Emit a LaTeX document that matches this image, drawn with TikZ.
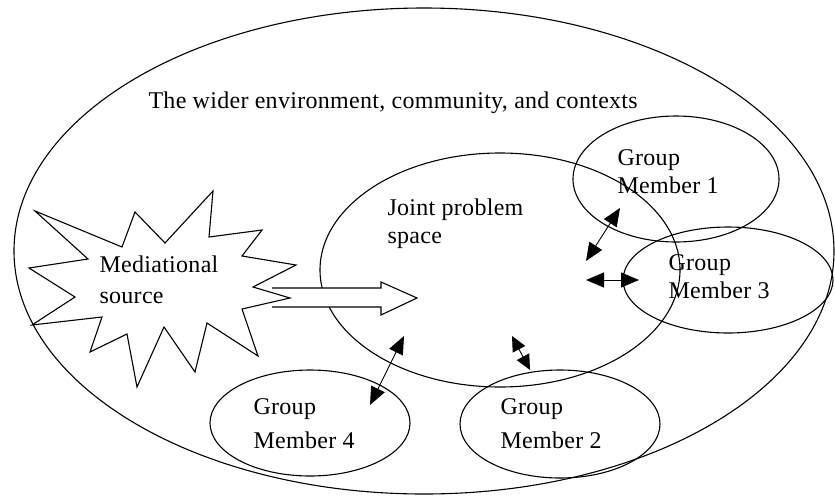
\documentclass[tikz,border=0pt]{standalone}
\usepackage{fontspec}
\setmainfont[LetterSpace=1.2]{Liberation Serif}
\usetikzlibrary{shapes.geometric,arrows.meta}

% two stacked lines, baseline of the box = baseline of the first line
\newcommand\twoline[3]{\vtop{\baselineskip=#3pt\hbox{#1}\hbox{#2}}}

\begin{document}
\begin{tikzpicture}[x=1pt,y=-1pt,
  line width=1.1pt,
  region/.style={draw, ellipse, inner sep=0pt},
  caption/.style={anchor=base west, inner sep=0pt, font=\fontsize{24}{29}\selectfont},
  link/.style={{Triangle[length=18pt,width=15pt]}-{Triangle[length=18pt,width=15pt]}, line width=0.9pt},
  short link/.style={{Triangle[length=15pt,width=14pt]}-{Triangle[length=15pt,width=14pt]}, line width=0.9pt},
]
\useasboundingbox (0,0) rectangle (835,496);

% context and the group regions
\node[region, minimum width=820pt, minimum height=486pt] (outer) at (424,251) {};
\node[region, minimum width=360pt, minimum height=234pt] (jps) at (500,270) {};
\node[region, minimum width=206pt, minimum height=126pt] (gm1) at (676,179) {};
\node[region, minimum width=210pt, minimum height=106pt] (gm3) at (728,280) {};
\node[region, minimum width=200pt, minimum height=106pt] (gm4) at (310,423) {};
\node[region, minimum width=200pt, minimum height=108pt] (gm2) at (560,424) {};

% block arrow from the source into the problem space (open at its tail)
\fill[white] (272,288) -- (381,288) -- (381,282) -- (417,298) -- (381,315) -- (381,307) -- (272,307) -- cycle;
\draw (272,288) -- (381,288) -- (381,282) -- (417,298) -- (381,315) -- (381,307) -- (272,307);

% mediational source burst
\draw[fill=white] (35,211) -- (122,247) -- (135,212) -- (165,243) -- (213,191) -- (209,237)
  -- (262,230) -- (242,256) -- (296,265) -- (253,287) -- (290,298) -- (242,309)
  -- (258,356) -- (207,323) -- (195,372) -- (164,327) -- (137,387) -- (127,334)
  -- (90,352) -- (102,317) -- (32,325) -- (75,297) -- (29,268) -- (88,259) -- cycle;

% interaction arrows
\coordinate (a1) at (620,208); \coordinate (b1) at (586,261);
\coordinate (a2) at (586,280); \coordinate (b2) at (639,280);
\coordinate (a3) at (512,336); \coordinate (b3) at (530,370);
\coordinate (a4) at (404,336); \coordinate (b4) at (370,405);
\draw[link] (a1) -- (b1);
\draw[link] (a2) -- (b2);
\draw[short link] (a3) -- (b3);
\draw[link] (a4) -- (b4);

% labels
\node[caption] (t-outer) at (148,108) {The wider environment, community, and contexts};
\node[caption] (t-jps) at (387,215) {\twoline{Joint problem}{space}{28}};
\node[caption] (t-src) at (99,272) {\twoline{Mediational}{source}{31}};
\node[caption] (t-gm1) at (617,165) {\twoline{Group}{Member 1}{28}};
\node[caption] (t-gm3) at (668,270) {\twoline{Group}{Member 3}{28}};
\node[caption] (t-gm4) at (253,414) {\twoline{Group}{Member 4}{34}};
\node[caption] (t-gm2) at (500,414) {\twoline{Group}{Member 2}{34}};
\end{tikzpicture}
\end{document}
